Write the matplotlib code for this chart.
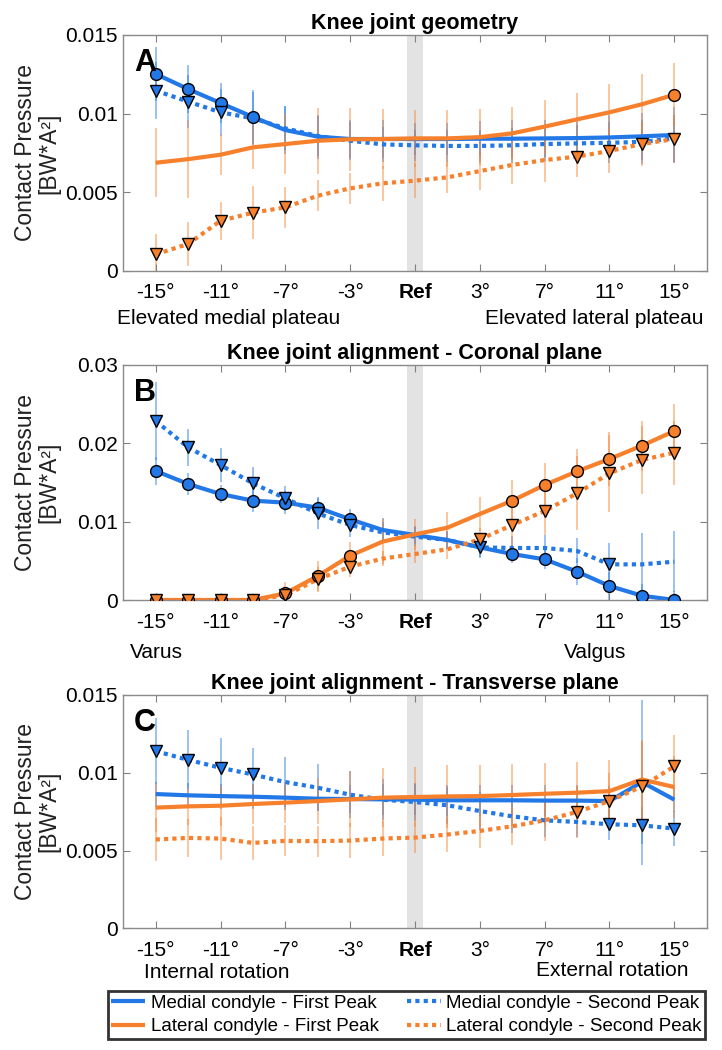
import numpy as np
import matplotlib.pyplot as plt

plt.rcParams['font.family'] = ['Liberation Sans', 'DejaVu Sans']

# x positions: -15..-1 by 2, Ref, 1..15 by 2
x = np.arange(17)
tick_pos = [0, 2, 4, 6, 8, 10, 12, 14, 16]
tick_labels = ['-15°', '-11°', '-7°', '-3°', 'Ref', '3°', '7°', '11°', '15°']

# Panel A - knee joint geometry
a_m1 = [0.01252, 0.01156, 0.01067, 0.00978, 0.00895, 0.00853, 0.00838, 0.00838, 0.00838, 0.00838, 0.00840, 0.00840, 0.00842, 0.00844, 0.00848, 0.00855, 0.00864]
a_m2 = [0.01146, 0.01076, 0.01008, 0.00970, 0.00906, 0.00857, 0.00827, 0.00804, 0.00798, 0.00794, 0.00794, 0.00798, 0.00806, 0.00810, 0.00814, 0.00820, 0.00842]
a_l1 = [0.00687, 0.00710, 0.00738, 0.00785, 0.00806, 0.00827, 0.00836, 0.00838, 0.00842, 0.00842, 0.00850, 0.00874, 0.00917, 0.00963, 0.01008, 0.01059, 0.01120]
a_l2 = [0.00104, 0.00170, 0.00318, 0.00369, 0.00403, 0.00477, 0.00524, 0.00556, 0.00573, 0.00594, 0.00634, 0.00673, 0.00704, 0.00726, 0.00762, 0.00806, 0.00838]
a_m1_sd = [0.0017, 0.0015, 0.0013, 0.0017, 0.0015, 0.0014, 0.0012, 0.0012, 0.0010, 0.0010, 0.0011, 0.0012, 0.0012, 0.0013, 0.0014, 0.0015, 0.0018]
a_m2_sd = [0.0018, 0.0017, 0.0015, 0.0017, 0.0014, 0.0013, 0.0012, 0.0011, 0.0010, 0.0010, 0.0010, 0.0011, 0.0011, 0.0012, 0.0013, 0.0014, 0.0015]
a_l1_sd = [0.0022, 0.0025, 0.0013, 0.0014, 0.0019, 0.0021, 0.0020, 0.0019, 0.0018, 0.0018, 0.0018, 0.0017, 0.0017, 0.0017, 0.0018, 0.0019, 0.0020]
a_l2_sd = [0.0013, 0.0014, 0.0012, 0.0017, 0.0013, 0.0010, 0.0010, 0.0011, 0.0011, 0.0010, 0.0012, 0.0012, 0.0014, 0.0013, 0.0014, 0.0014, 0.0015]
a_marks = {'m1': [0, 1, 2, 3], 'm2': [0, 1, 2], 'l1': [16], 'l2': [0, 1, 2, 3, 4, 13, 14, 15, 16]}

# Panel B - coronal plane
b_m1 = [0.01647, 0.01481, 0.01353, 0.01268, 0.01243, 0.01179, 0.01030, 0.00894, 0.00830, 0.00766, 0.00672, 0.00587, 0.00519, 0.00362, 0.00179, 0.00055, 0.0]
b_m2 = [0.02285, 0.01949, 0.01723, 0.01489, 0.01298, 0.01106, 0.00957, 0.00864, 0.00809, 0.00766, 0.00672, 0.00664, 0.00664, 0.00626, 0.00455, 0.00455, 0.00489]
b_l1 = [0.0, 0.0, 0.0, 0.0, 0.00085, 0.00306, 0.00566, 0.00745, 0.00838, 0.00923, 0.01098, 0.01268, 0.01468, 0.01643, 0.01800, 0.01970, 0.02157]
b_l2 = [0.0, 0.0, 0.0, 0.0, 0.00060, 0.00264, 0.00426, 0.00528, 0.00587, 0.00647, 0.00774, 0.00957, 0.01136, 0.01362, 0.01617, 0.01787, 0.01881]
b_m1_sd = [0.0018, 0.0014, 0.0012, 0.0014, 0.0015, 0.0013, 0.0013, 0.0015, 0.0012, 0.0012, 0.0012, 0.0012, 0.0012, 0.0017, 0.0018, 0.0015, 0.0012]
b_m2_sd = [0.0050, 0.0024, 0.0022, 0.0021, 0.0016, 0.0020, 0.0015, 0.0013, 0.0012, 0.0012, 0.0013, 0.0015, 0.0017, 0.0016, 0.0027, 0.0040, 0.0039]
b_l1_sd = [0.0, 0.0, 0.0, 0.0, 0.0015, 0.0019, 0.0018, 0.0029, 0.0020, 0.0020, 0.0022, 0.0026, 0.0028, 0.0029, 0.0035, 0.0032, 0.0035]
b_l2_sd = [0.0, 0.0, 0.0, 0.0, 0.0008, 0.0016, 0.0013, 0.0010, 0.0012, 0.0012, 0.0015, 0.0028, 0.0030, 0.0047, 0.0049, 0.0044, 0.0041]
b_marks = {'m1': [0, 1, 2, 3, 4, 5, 6, 11, 12, 13, 14, 15, 16], 'm2': [0, 1, 2, 3, 4, 5, 6, 10, 14],
           'l1': [0, 1, 2, 3, 4, 5, 6, 11, 12, 13, 14, 15, 16], 'l2': [0, 1, 2, 3, 4, 5, 6, 10, 11, 12, 13, 14, 15, 16]}

# Panel C - transverse plane
c_m1 = [0.00863, 0.00855, 0.00850, 0.00846, 0.00840, 0.00833, 0.00831, 0.00829, 0.00827, 0.00823, 0.00823, 0.00823, 0.00821, 0.00821, 0.00818, 0.00940, 0.00827]
c_m2 = [0.01139, 0.01083, 0.01032, 0.00989, 0.00940, 0.00904, 0.00859, 0.00827, 0.00812, 0.00791, 0.00754, 0.00720, 0.00694, 0.00684, 0.00669, 0.00662, 0.00641]
c_l1 = [0.00776, 0.00784, 0.00788, 0.00799, 0.00808, 0.00818, 0.00829, 0.00840, 0.00844, 0.00848, 0.00850, 0.00857, 0.00865, 0.00872, 0.00882, 0.00957, 0.00908]
c_l2 = [0.00571, 0.00581, 0.00577, 0.00549, 0.00562, 0.00560, 0.00564, 0.00577, 0.00583, 0.00603, 0.00626, 0.00656, 0.00694, 0.00748, 0.00818, 0.00912, 0.01041]
c_m1_sd = [0.0008, 0.0008, 0.0008, 0.0008, 0.0008, 0.0008, 0.0009, 0.0010, 0.0010, 0.0010, 0.0010, 0.0010, 0.0010, 0.0010, 0.0010, 0.0053, 0.0008]
c_m2_sd = [0.0021, 0.0019, 0.0019, 0.0017, 0.0016, 0.0015, 0.0015, 0.0013, 0.0012, 0.0012, 0.0012, 0.0011, 0.0011, 0.0010, 0.0010, 0.0012, 0.0011]
c_l1_sd = [0.0016, 0.0012, 0.0013, 0.0013, 0.0013, 0.0015, 0.0018, 0.0019, 0.0019, 0.0020, 0.0020, 0.0020, 0.0020, 0.0020, 0.0020, 0.0025, 0.0020]
c_l2_sd = [0.0014, 0.0012, 0.0014, 0.0011, 0.0010, 0.0010, 0.0011, 0.0011, 0.0010, 0.0011, 0.0011, 0.0012, 0.0013, 0.0017, 0.0018, 0.0030, 0.0020]
c_marks = {'m1': [], 'm2': [0, 1, 2, 3, 14, 15, 16], 'l1': [], 'l2': [13, 14, 15, 16]}

blue = '#2178e6'
orange = '#f7802c'

W, H = 722, 1050
fig = plt.figure(figsize=(W / 100, H / 100), dpi=100)


def add_ax(top, bottom):
    return fig.add_axes([123.3 / W, 1 - bottom / H, (706.7 - 123.3) / W, (bottom - top) / H])


def panel(ax, m1, m2, l1, l2, sds, marks, ymax, yticks, yticklabels, title, letter):
    ax.axvspan(7.75, 8.25, color='#e3e3e3', lw=0, zorder=0)
    series = [('m1', m1, blue, '-', 'o'), ('m2', m2, blue, (0, (1, 1)), 'v'),
              ('l1', l1, orange, '-', 'o'), ('l2', l2, orange, (0, (1, 1)), 'v')]
    # error bars (mean +/- sd)
    for (key, y, c, ls, mk), sd in zip(series, sds):
        y = np.array(y)
        sd = np.array(sd)
        ax.vlines(x, y - sd, y + sd, color=c, alpha=0.45, lw=1.4, zorder=1)
    handles = []
    for key, y, c, ls, mk in series:
        h, = ax.plot(x, y, color=c, ls=ls, lw=3, zorder=2, solid_capstyle='butt', dash_capstyle='butt')
        handles.append(h)
    # significance markers
    for key, y, c, ls, mk in series:
        idx = marks[key]
        if idx:
            ax.plot(x[idx], np.array(y)[idx], ls='none', marker=mk, ms=8.5, mfc=c, mec='black', mew=1, zorder=3)
    ax.set_xlim(-1, 17)
    ax.set_ylim(0, ymax)
    ax.set_xticks(tick_pos)
    ax.set_xticklabels(tick_labels)
    ax.get_xticklabels()[4].set_fontweight('bold')
    ax.set_yticks(yticks)
    ax.set_yticklabels(yticklabels)
    ax.tick_params(direction='in', top=True, right=True, length=5, width=0.8, color='#808080', labelsize=15)
    ax.tick_params(axis='x', pad=9)
    ax.tick_params(axis='y', pad=4)
    for s in ax.spines.values():
        s.set_color('#8a8a8a')
        s.set_linewidth(1)
    ax.set_title(title, fontsize=15.5, fontweight='bold', pad=4)
    ax.text(0.018, 0.945, letter, transform=ax.transAxes, fontsize=22, fontweight='bold', va='top', ha='left')
    return handles


axA = add_ax(35, 270.7)
panel(axA, a_m1, a_m2, a_l1, a_l2, [a_m1_sd, a_m2_sd, a_l1_sd, a_l2_sd], a_marks, 0.015,
      [0, 0.005, 0.01, 0.015], ['0', '0.005', '0.01', '0.015'], 'Knee joint geometry', 'A')
axB = add_ax(365, 600)
panel(axB, b_m1, b_m2, b_l1, b_l2, [b_m1_sd, b_m2_sd, b_l1_sd, b_l2_sd], b_marks, 0.03,
      [0, 0.01, 0.02, 0.03], ['0', '0.01', '0.02', '0.03'], 'Knee joint alignment - Coronal plane', 'B')
axC = add_ax(695, 928.3)
handles = panel(axC, c_m1, c_m2, c_l1, c_l2, [c_m1_sd, c_m2_sd, c_l1_sd, c_l2_sd], c_marks, 0.015,
                [0, 0.005, 0.01, 0.015], ['0', '0.005', '0.01', '0.015'], 'Knee joint alignment - Transverse plane', 'C')

# y labels
for yc in [(35 + 270.7) / 2, (365 + 600) / 2, (695 + 928.3) / 2]:
    fig.text(37 / W, 1 - yc / H, 'Contact Pressure\n[BW*A²]', rotation=90, ha='center', va='center',
             fontsize=16.5, linespacing=1.0, color='#222222')

# direction labels
side_labels = [
    ('Elevated medial plateau', 117, 319), ('Elevated lateral plateau', 485, 319),
    ('Varus', 130, 652), ('Valgus', 564, 652),
    ('Internal rotation', 144, 973), ('External rotation', 536, 970),
]
for txt, px, py in side_labels:
    fig.text(px / W, 1 - py / H, txt, ha='left', va='center', fontsize=15)

labels = ['Medial condyle - First Peak', 'Lateral condyle - First Peak',
          'Medial condyle - Second Peak', 'Lateral condyle - Second Peak']
leg_handles = [handles[0], handles[2], handles[1], handles[3]]
leg = fig.legend(leg_handles, labels, ncol=2, loc='center', bbox_to_anchor=(406.5 / W, 1 - 1015 / H),
                 fontsize=13.5, frameon=True, fancybox=False, edgecolor='black', handlelength=1.8,
                 handletextpad=0.3, columnspacing=1.5, labelspacing=0.35, borderpad=0.2, borderaxespad=0)
leg.get_frame().set_linewidth(2)

fig.savefig('out.png', dpi=100)
